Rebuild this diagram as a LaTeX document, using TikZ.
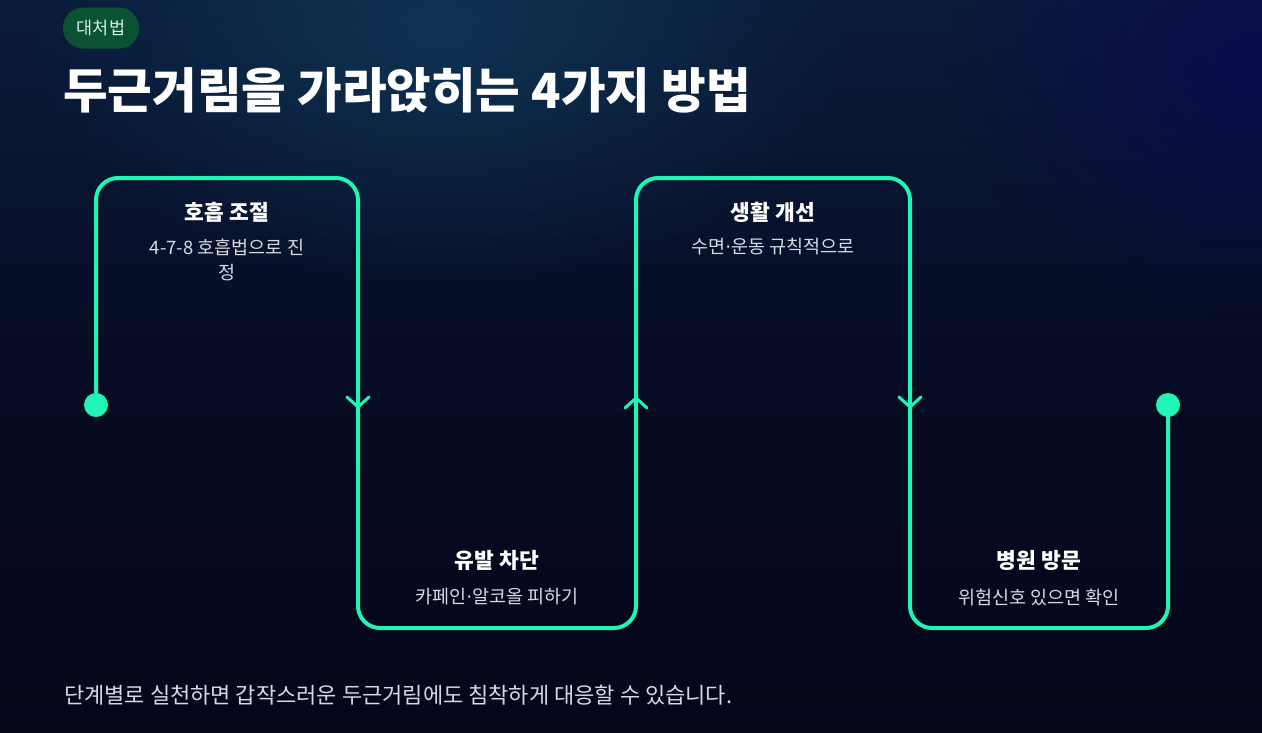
\documentclass[tikz,border=0pt]{standalone}
\usepackage{fontspec}
\usepackage{tikz}
\usetikzlibrary{fadings}

\newfontfamily\kr{Noto Sans CJK KR}
\newfontfamily\lat{DejaVu Sans}
\newcommand{\mdot}{{\lat ·}}

\definecolor{bgdark}{HTML}{05061A}
\definecolor{bgtop}{HTML}{0A1B3A}
\definecolor{glow}{HTML}{14486A}
\definecolor{indigo}{HTML}{0A0850}
\definecolor{mint}{HTML}{1FF5B4}
\definecolor{badgegreen}{HTML}{0B5232}
\definecolor{badgetext}{HTML}{D2F2E2}
\definecolor{subgray}{HTML}{D6DAE2}

\tikzfading[name=glowfade, inner color=transparent!0, outer color=transparent!100]

\tikzset{
	flow/.style={line width=4, mint, rounded corners=22, line cap=round, line join=round},
	chev/.style={line width=3, mint, line cap=round, line join=round},
	head/.style={font=\kr\bfseries\fontsize{21.5}{25}\selectfont, text=white},
	sub/.style={font=\kr\fontsize{18.5}{25}\selectfont, text=subgray, align=center}
}

\begin{document}
\begin{tikzpicture}[x=1pt, y=-1pt]
			\useasboundingbox (0, 0) rectangle (1262, 732);

			%background
			\shade[top color=bgtop, bottom color=bgdark, middle color=bgdark!70!bgtop]
				(0, 0) rectangle (1262, 732);
			\fill[glow, path fading=glowfade, opacity=0.55]
				(440, 30) ellipse (420 and 260);
			\fill[indigo, path fading=glowfade, opacity=0.8]
				(1250, 60) ellipse (300 and 260);

			% badge + title
			\node[fill=badgegreen, rounded corners=20, minimum width=76, minimum height=41,
				font=\kr\fontsize{17.5}{19}\selectfont, text=badgetext] (badge) at (101, 28)
				{대처법};
			\node[anchor=west, inner sep=0, font=\kr\bfseries\fontsize{48.5}{52}\selectfont, text=white] (title) at (63, 90)
				{두근거림을 가라앉히는 4가지 방법};

			% path points
			\coordinate (start) at (96, 405);
			\coordinate (c1) at (96, 178);
			\coordinate (c2) at (358, 178);
			\coordinate (c3) at (358, 628);
			\coordinate (c4) at (636, 628);
			\coordinate (c5) at (636, 178);
			\coordinate (c6) at (910, 178);
			\coordinate (c7) at (910, 628);
			\coordinate (c8) at (1168, 628);
			\coordinate (end) at (1168, 405);

			\draw[flow]
				(start) -- (c1) -- (c2) -- (c3) -- (c4) -- (c5) -- (c6) -- (c7) -- (c8) -- (end);
			\fill[mint]
				(start) circle (12);
			\fill[mint]
				(end) circle (12);

			% arrows on the path
			\coordinate (m1) at (358, 407);
			\coordinate (m2) at (636, 398);
			\coordinate (m3) at (910, 407);
			\draw[chev]
				([shift={(-11, -10)}]m1) -- (m1) -- ([shift={(11, -10)}]m1);
			\draw[chev]
				([shift={(-11, 10)}]m2) -- (m2) -- ([shift={(11, 10)}]m2);
			\draw[chev]
				([shift={(-11, -10)}]m3) -- (m3) -- ([shift={(11, -10)}]m3);

			% step 1
			\node[head] (h1) at (227, 212)
				{호흡 조절};
			\node[sub] (s1) at (227, 260)
				{4-7-8 호흡법으로 진\\정};

			% step 2
			\node[head] (h2) at (497, 560)
				{유발 차단};
			\node[sub] (s2) at (497, 597)
				{카페인\mdot 알코올 피하기};

			% step 3
			\node[head] (h3) at (773, 212)
				{생활 개선};
			\node[sub] (s3) at (773, 247)
				{수면\mdot 운동 규칙적으로};

			% step 4
			\node[head] (h4) at (1039, 560)
				{병원 방문};
			\node[sub] (s4) at (1039, 597)
				{위험신호 있으면 확인};

			% footer
			\node[anchor=west, inner sep=0, font=\kr\fontsize{22}{24}\selectfont, text=subgray] (foot) at (64, 695)
				{단계별로 실천하면 갑작스러운 두근거림에도 침착하게 대응할 수 있습니다.};

		\end{tikzpicture}
\end{document}
